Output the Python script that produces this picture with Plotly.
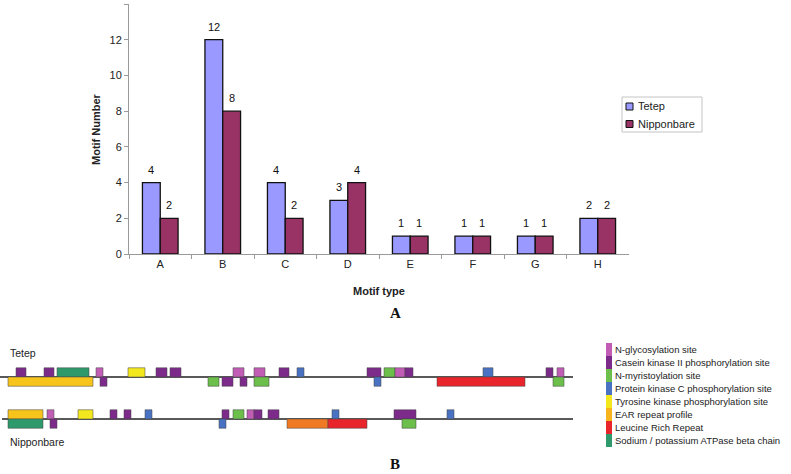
import plotly.graph_objects as go

W, H = 791, 474
FONT = "Arial, 'Liberation Sans', sans-serif"

# ---- panel A data ----
categories = ["A", "B", "C", "D", "E", "F", "G", "H"]
tetep_counts = [4, 12, 4, 3, 1, 1, 1, 2]
nippon_counts = [2, 8, 2, 4, 1, 1, 1, 2]
series_names = ["Tetep", "Nipponbare"]
series_colors = ["#9999FF", "#993366"]

# ---- panel B data (approx. residue positions) ----
motif_names = [
    "N-glycosylation site",
    "Casein kinase II phosphorylation site",
    "N-myristoylation site",
    "Protein kinase C phosphorylation site",
    "Tyrosine kinase phosphorylation site",
    "EAR repeat profile",
    "Leucine Rich Repeat",
    "Sodium / potassium ATPase beta chain",
]
motif_colors = {
    "glyco": "#C25DB5", "ck2": "#7D2B8B", "myr": "#6DBF4B", "pkc": "#4A72C2",
    "tyr": "#F3E71E", "ear": "#F7C41C", "ear2": "#F07A24", "lrr": "#E8252B",
    "atp": "#2E9A6C",
}
legend_swatch = ["#C25DB5", "#7D2B8B", "#6DBF4B", "#4A72C2", "#F3E71E", "#F7B41C", "#E8252B", "#2E9A6C"]

seq_len = 1146
tetep_line = [0, 1146]
nippon_line = [4, 1146]

# (type, start, end) above the line / below the line
tetep_above = [("ck2", 32, 52), ("ck2", 88, 108), ("atp", 114, 178), ("glyco", 192, 206),
               ("tyr", 256, 290), ("ck2", 312, 334), ("ck2", 340, 362), ("glyco", 466, 488),
               ("glyco", 508, 530), ("ck2", 558, 578), ("pkc", 594, 608), ("ck2", 734, 762),
               ("myr", 768, 790), ("glyco", 790, 810), ("ck2", 810, 826), ("pkc", 966, 986),
               ("ck2", 1092, 1106), ("glyco", 1114, 1128)]
tetep_below = [("ear", 16, 186), ("ck2", 200, 214), ("myr", 416, 438), ("ck2", 444, 466),
               ("ck2", 480, 494), ("myr", 508, 538), ("pkc", 748, 762), ("lrr", 874, 1050),
               ("myr", 1106, 1128)]
nippon_above = [("ear", 16, 86), ("glyco", 94, 108), ("tyr", 156, 186), ("ck2", 220, 234),
                ("ck2", 248, 262), ("pkc", 290, 304), ("ck2", 444, 458), ("myr", 466, 488),
                ("glyco", 494, 508), ("ck2", 508, 524), ("ck2", 536, 558), ("pkc", 664, 678),
                ("ck2", 788, 832), ("pkc", 894, 908)]
nippon_below = [("atp", 16, 86), ("ck2", 100, 114), ("pkc", 438, 452), ("ear2", 574, 656),
                ("lrr", 656, 734), ("myr", 804, 832)]

fig = go.Figure()

# panel A bars
for name, vals, col in zip(series_names, [tetep_counts, nippon_counts], series_colors):
    fig.add_trace(go.Bar(
        name=name, x=categories, y=vals, showlegend=False,
        marker=dict(color=col, line=dict(color="#111111", width=1.3)),
        xaxis="x", yaxis="y",
    ))

annotations = []
# value labels above bars
for k, vals in enumerate([tetep_counts, nippon_counts]):
    for c, v in zip(categories, vals):
        annotations.append(dict(
            x=c, y=v, xref="x", yref="y", text=str(v), showarrow=False,
            xshift=-9 if k == 0 else 9, yanchor="bottom", yshift=5,
            font=dict(family=FONT, size=11, color="#111111"),
        ))

# panel B tracks
BOX = 0.22
for track_y, line_x, above, below in [(1, tetep_line, tetep_above, tetep_below),
                                      (0, nippon_line, nippon_above, nippon_below)]:
    fig.add_trace(go.Scatter(
        x=line_x, y=[track_y, track_y], mode="lines", showlegend=False,
        line=dict(color="#222222", width=1.5), xaxis="x2", yaxis="y2", hoverinfo="skip",
    ))
    for boxes, sign in [(above, 1), (below, -1)]:
        for kind, s, e in boxes:
            fig.add_shape(
                type="rect", xref="x2", yref="y2",
                x0=s, x1=e, y0=track_y, y1=track_y + sign * BOX,
                fillcolor=motif_colors[kind],
                line=dict(color="rgba(70,70,70,0.65)", width=0.8),
            )

# custom legend for panel A
fig.add_shape(type="rect", xref="paper", yref="paper",
              x0=622 / W, x1=702 / W, y0=1 - 132 / H, y1=1 - 97 / H,
              line=dict(color="#c4c4c4", width=1), fillcolor="white")
for i, (name, col) in enumerate(zip(series_names, series_colors)):
    cy = 106.5 + i * 17.5
    fig.add_shape(type="rect", xref="paper", yref="paper",
                  x0=626 / W, x1=633 / W, y0=1 - (cy + 3.5) / H, y1=1 - (cy - 3.5) / H,
                  fillcolor=col, line=dict(color="#111", width=1))
    annotations.append(dict(x=636 / W, y=1 - cy / H, xref="paper", yref="paper",
                            text=name, showarrow=False, xanchor="left", yanchor="middle",
                            font=dict(family=FONT, size=11, color="#222")))

# legend for panel B
for i, (name, col) in enumerate(zip(motif_names, legend_swatch)):
    top = 343 + i * 13
    fig.add_shape(type="rect", xref="paper", yref="paper",
                  x0=606 / W, x1=612 / W, y0=1 - (top + 13) / H, y1=1 - top / H,
                  fillcolor=col, line=dict(width=0))
    annotations.append(dict(x=613 / W, y=1 - (top + 6.5) / H, xref="paper", yref="paper",
                            text=name, showarrow=False, xanchor="left", yanchor="middle",
                            font=dict(family=FONT, size=9.5, color="#222")))

# text labels
serif = "'Liberation Serif', 'DejaVu Serif', serif"
extra = [
    dict(x=96 / W, y=1 - 129 / H, text="<b>Motif Number</b>", textangle=-90,
         xanchor="center", font=dict(family=FONT, size=11, color="#222")),
    dict(x=379 / W, y=1 - 291 / H, text="<b>Motif type</b>", xanchor="center",
         font=dict(family=FONT, size=11, color="#222")),
    dict(x=8 / W, y=1 - 353 / H, text="Tetep", xanchor="left",
         font=dict(family=FONT, size=10.5, color="#222")),
    dict(x=8 / W, y=1 - 442 / H, text="Nipponbare", xanchor="left",
         font=dict(family=FONT, size=10.5, color="#222")),
    dict(x=395 / W, y=1 - 313 / H, text="<b>A</b>", xanchor="center",
         font=dict(family=serif, size=15, color="#111")),
    dict(x=395 / W, y=1 - 464 / H, text="<b>B</b>", xanchor="center",
         font=dict(family=serif, size=15, color="#111")),
]
for a in extra:
    a.update(xref="paper", yref="paper", showarrow=False, yanchor="middle")
annotations += extra

fig.update_layout(
    width=W, height=H,
    margin=dict(l=0, r=0, t=0, b=0),
    paper_bgcolor="white", plot_bgcolor="white",
    barmode="group", bargap=0.43, bargroupgap=0,
    showlegend=False,
    font=dict(family=FONT, size=11, color="#222"),
    xaxis=dict(domain=[129 / W, 629 / W], anchor="y", showline=True, linecolor="#9a9a9a",
               ticks="outside", tickson="boundaries", ticklen=4, tickcolor="#9a9a9a",
               showgrid=False, automargin=False, tickfont=dict(size=11)),
    yaxis=dict(domain=[1 - 254 / H, 1 - 4 / H], anchor="x", range=[0, 14], dtick=2,
               showline=True, linecolor="#9a9a9a", ticks="outside", ticklen=4,
               tickcolor="#9a9a9a", showgrid=False, zeroline=False, automargin=False,
               tickfont=dict(size=11)),
    xaxis2=dict(domain=[0, 573 / W], anchor="y2", range=[0, seq_len], visible=False),
    yaxis2=dict(domain=[1 - 450 / H, 1 - 350 / H], anchor="x2",
                range=[-0.738, 1.643], visible=False),
    annotations=annotations,
)

# drop the page's default body margin so the figure sits at the window's corner
fig.write_html("out.html", config={"displayModeBar": False},
               post_script="document.body.style.margin='0';")
